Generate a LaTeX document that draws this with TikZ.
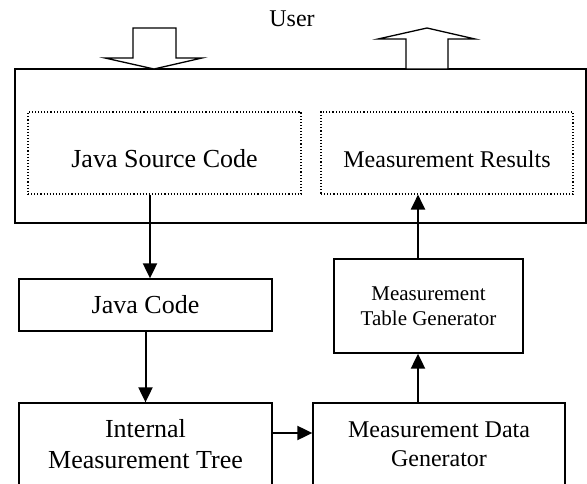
\documentclass[tikz,border=0pt]{standalone}
\usepackage{fontspec}
\setmainfont{Liberation Serif}
\usetikzlibrary{arrows.meta,positioning,calc}
\newcommand{\bigtxt}{\fontsize{26}{31}\selectfont}
\newcommand{\midtxt}{\fontsize{24}{29}\selectfont}
\newcommand{\smalltxt}{\fontsize{21}{25}\selectfont}
\tikzset{
  box/.style={draw, line width=1.3pt, inner sep=0pt, align=center},
  dotbox/.style={draw, dotted, line width=1.1pt, inner sep=0pt},
  conn/.style={line width=2pt, -{Triangle[length=15pt,width=14pt]}},
  hollow/.style={draw, line width=1.3pt, fill=white, line join=miter},
}
\begin{document}
\begin{tikzpicture}[x=1pt,y=-1pt]
   \clip (0,0) rectangle (587,484);
   % user side
   \node [font=\midtxt] (user) at (292,19) {User};
   \node [box, minimum width=571pt, minimum height=154pt] (sys) at (300.5,146) {};
   \node [dotbox, minimum width=273pt, minimum height=82pt] (src) at (164.5,153) {};
   \node [dotbox, minimum width=252pt, minimum height=82pt] (res) at (447,153) {};
   \node [font=\bigtxt] (srctxt) at ([yshift=-6pt]src.center) {Java Source Code};
   \node [font=\midtxt] (restxt) at ([yshift=-6pt]res.center) {Measurement Results};
   % input and output arrows
   \draw [hollow] (133,28) -- (176,28) -- (176,58) -- (202,58) -- (154,69)
         -- (105,58) -- (133,58) -- cycle;
   \draw [hollow] (406,69) -- (406,39) -- (378,39) -- (427,28) -- (475,39)
         -- (448,39) -- (448,69) -- cycle;
   % processing steps
   \node [box, font=\bigtxt, minimum width=253pt, minimum height=52pt] (jcode) at (145.5,305) {Java Code};
   \node [box, font=\bigtxt, minimum width=253pt, minimum height=83pt] (itree) at (145.5,444.5)
         {Internal\\Measurement Tree};
   \node [box, font=\midtxt, minimum width=252pt, minimum height=83pt] (dgen) at (439,444.5)
         {Measurement Data\\Generator};
   \node [box, font=\smalltxt, minimum width=189pt, minimum height=94pt] (tgen) at (428.5,306)
         {Measurement\\Table Generator};
   \draw [conn] ([xshift=-14.5pt]src.south) -- ([xshift=-14.5pt]src.south |- jcode.north);
   \draw [conn] (jcode.south) -- (itree.north);
   \draw [conn] ([yshift=11.5pt]itree.east) -- ([yshift=11.5pt]itree.east -| dgen.west);
   \draw [conn] ([xshift=-10.5pt]tgen.south |- dgen.north) -- ([xshift=-10.5pt]tgen.south);
   \draw [conn] ([xshift=-10.5pt]tgen.north) -- ([xshift=-10.5pt]tgen.north |- res.south);
\end{tikzpicture}
\end{document}
